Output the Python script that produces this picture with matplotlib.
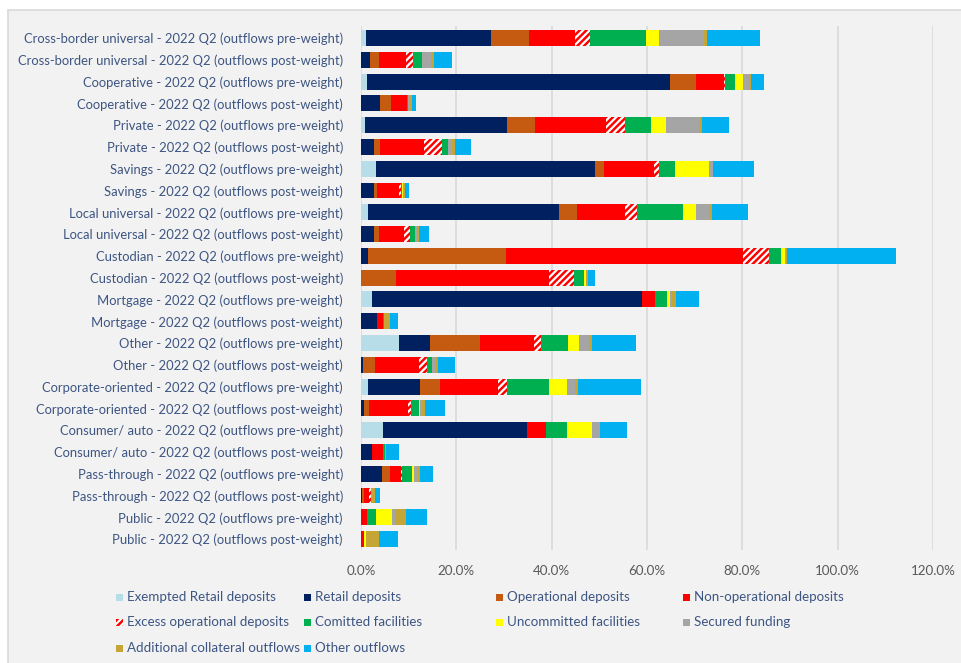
import matplotlib.pyplot as plt
from matplotlib.patches import Rectangle
import numpy as np

plt.rcParams['font.family'] = ['Lato', 'DejaVu Sans']
plt.rcParams['hatch.linewidth'] = 1.6

categories = [
    "Cross-border universal - 2022 Q2 (outflows pre-weight)",
    "Cross-border universal - 2022 Q2 (outflows post-weight)",
    "Cooperative - 2022 Q2 (outflows pre-weight)",
    "Cooperative - 2022 Q2 (outflows post-weight)",
    "Private - 2022 Q2 (outflows pre-weight)",
    "Private - 2022 Q2 (outflows post-weight)",
    "Savings - 2022 Q2 (outflows pre-weight)",
    "Savings - 2022 Q2 (outflows post-weight)",
    "Local universal - 2022 Q2 (outflows pre-weight)",
    "Local universal - 2022 Q2 (outflows post-weight)",
    "Custodian - 2022 Q2 (outflows pre-weight)",
    "Custodian - 2022 Q2 (outflows post-weight)",
    "Mortgage - 2022 Q2 (outflows pre-weight)",
    "Mortgage - 2022 Q2 (outflows post-weight)",
    "Other - 2022 Q2 (outflows pre-weight)",
    "Other - 2022 Q2 (outflows post-weight)",
    "Corporate-oriented - 2022 Q2 (outflows pre-weight)",
    "Corporate-oriented - 2022 Q2 (outflows post-weight)",
    "Consumer/ auto - 2022 Q2 (outflows pre-weight)",
    "Consumer/ auto - 2022 Q2 (outflows post-weight)",
    "Pass-through - 2022 Q2 (outflows pre-weight)",
    "Pass-through - 2022 Q2 (outflows post-weight)",
    "Public - 2022 Q2 (outflows pre-weight)",
    "Public - 2022 Q2 (outflows post-weight)",
]

# outflow shares in % of total, one value per category
exempted_retail = [1.05, 0, 1.3, 0, 0.8, 0, 3.1, 0, 1.4, 0, 0, 0,
                   2.25, 0, 8.05, 0, 1.55, 0, 4.55, 0, 0, 0, 0, 0]
retail = [26.2, 1.9, 63.5, 4.0, 29.9, 2.65, 45.9, 2.8, 40.1, 2.65, 1.4, 0,
          56.8, 3.35, 6.45, 0.35, 10.8, 0.7, 30.3, 2.4, 4.4, 0.2, 0, 0]
operational = [8.0, 1.9, 5.4, 2.3, 5.9, 1.3, 1.9, 0.55, 3.9, 1.05, 29.0, 7.3,
               0, 0, 10.5, 2.6, 4.25, 1.0, 0, 0, 1.6, 0.4, 0, 0]
non_operational = [9.65, 5.6, 6.0, 3.3, 14.8, 9.3, 10.5, 4.6, 9.9, 5.4, 49.7, 32.1,
                   2.6, 1.25, 11.3, 9.3, 12.2, 8.25, 4.0, 2.25, 2.3, 1.05, 1.35, 0.7]
excess_operational = [3.2, 1.6, 0.15, 0, 4.05, 3.8, 1.05, 0.35, 2.7, 1.2, 5.45, 5.3,
                      0, 0, 1.4, 1.55, 1.75, 0.55, 0, 0, 0.4, 0.35, 0, 0]
committed = [11.6, 1.75, 2.2, 0.35, 5.4, 1.25, 3.5, 0.3, 9.5, 1.05, 2.65, 2.1,
             2.45, 0.3, 5.75, 1.1, 8.8, 1.6, 4.35, 0.3, 1.95, 0.2, 1.7, 0]
uncommitted = [2.9, 0, 1.5, 0, 3.2, 0, 7.0, 0.2, 2.7, 0, 0.75, 0.3,
               0.75, 0, 2.3, 0, 3.8, 0.35, 5.25, 0, 0.5, 0, 3.55, 0.35]
secured = [9.4, 2.0, 1.3, 0.2, 6.85, 0.7, 0.9, 0, 3.1, 0.35, 0, 0,
           0.3, 0, 2.1, 0.6, 1.7, 0.4, 1.6, 0, 0.85, 0, 0.5, 0]
additional_collateral = [0.5, 0.5, 0.4, 0.5, 0.7, 0.8, 0.1, 0.35, 0.4, 0.4, 0.5, 0.5,
                         0.95, 1.1, 0.7, 0.6, 0.6, 0.55, 0, 0.3, 0.4, 0.7, 2.3, 2.7]
other = [11.2, 3.85, 2.7, 0.9, 5.7, 3.2, 8.6, 0.9, 7.55, 2.2, 22.8, 1.55,
         4.8, 1.75, 9.15, 3.7, 13.3, 4.25, 5.75, 2.7, 2.75, 1.0, 4.35, 4.1]

series = [
    ("Exempted Retail deposits", exempted_retail, "#b7dee8"),
    ("Retail deposits", retail, "#002060"),
    ("Operational deposits", operational, "#c55a11"),
    ("Non-operational deposits", non_operational, "#ff0000"),
    ("Excess operational deposits", excess_operational, "hatch"),
    ("Comitted facilities", committed, "#00b050"),
    ("Uncommitted facilities", uncommitted, "#ffff00"),
    ("Secured funding", secured, "#a5a5a5"),
    ("Additional collateral outflows", additional_collateral, "#c4a535"),
    ("Other outflows", other, "#00b0f0"),
]

TEXT = "#3d5582"

W, H = 961, 663
fig = plt.figure(figsize=(W / 100, H / 100), dpi=100)
fig.patch.set_facecolor("white")

# grey chart panel
fig.patches.append(Rectangle((8 / W, -0.05), 1.0, 1.05 - 10 / H,
                             transform=fig.transFigure, facecolor="#f2f2f2",
                             edgecolor="#d9d9d9", linewidth=1.2, zorder=-10))

ax = fig.add_axes([361 / W, 1 - 550 / H, (933 - 361) / W, (550 - 26) / H])
ax.set_facecolor("none")

y = np.arange(len(categories))
left = np.zeros(len(categories))
for name, vals, color in series:
    vals = np.array(vals)
    if color == "hatch":
        ax.barh(y, vals, left=left, height=0.73, color="#ff0000",
                edgecolor="white", hatch="/////", linewidth=0, zorder=3)
    else:
        ax.barh(y, vals, left=left, height=0.73, color=color,
                edgecolor="none", zorder=3)
    left += vals

ax.set_xlim(0, 120)
ax.set_ylim(len(categories) - 0.5, -0.55)
ax.set_xticks(np.arange(0, 121, 20))
ax.set_xticklabels([f"{v:.1f}%" for v in np.arange(0, 121, 20)])
ax.set_yticks(y)
ax.set_yticklabels(categories)
ax.tick_params(axis="y", length=0, pad=13, labelsize=9.4, labelcolor=TEXT)
ax.tick_params(axis="x", length=0, pad=11, labelsize=9.6, labelcolor="#595959")
ax.grid(axis="x", color="#d9d9d9", linewidth=1.2, zorder=0)
for s in ax.spines.values():
    s.set_visible(False)

# legend laid out as four columns below the plot
col_x = [116, 304, 496, 683]
row_y = [597, 622, 648]
for i, (name, vals, color) in enumerate(series):
    cx = col_x[i % 4]
    cy = row_y[i // 4]
    size = 7
    if color == "hatch":
        patch = Rectangle((cx / W, 1 - (cy + size / 2) / H), size / W, size / H,
                          transform=fig.transFigure, facecolor="#ff0000",
                          edgecolor="white", hatch="/////", linewidth=0)
    else:
        patch = Rectangle((cx / W, 1 - (cy + size / 2) / H), size / W, size / H,
                          transform=fig.transFigure, facecolor=color,
                          edgecolor="none")
    fig.patches.append(patch)
    fig.text((cx + 11) / W, 1 - cy / H, name, fontsize=9.6, color=TEXT,
             va="center", ha="left")

fig.savefig("out.png", dpi=100)
